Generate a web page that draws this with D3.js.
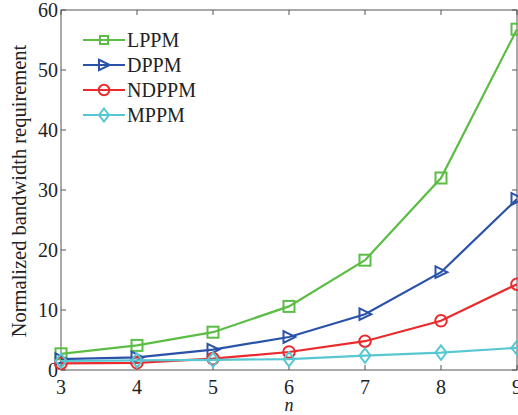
<!DOCTYPE html>
<html>
<head>
<meta charset="utf-8">
<script src="https://cdn.jsdelivr.net/npm/d3@7"></script>
<style>
  html, body { margin: 0; padding: 0; background: #fff; }
  svg { display: block; font-family: "Liberation Serif", "Times New Roman", serif; }
</style>
</head>
<body>
<div id="chart"></div>
<script>
const nValues = [3, 4, 5, 6, 7, 8, 9]
const lppm = [2.7, 4.1, 6.3, 10.6, 18.3, 32.0, 56.8]
const dppm = [1.8, 2.1, 3.4, 5.5, 9.3, 16.3, 28.5]
const ndppm = [1.1, 1.2, 1.9, 3.0, 4.8, 8.2, 14.3]
const mppm = [1.5, 1.6, 1.7, 1.8, 2.4, 2.9, 3.7]
const yTicks = [0, 10, 20, 30, 40, 50, 60]

const series = [
    { name: 'LPPM', values: lppm, color: '#5cbd45', marker: 'square' },
    { name: 'DPPM', values: dppm, color: '#2a52a8', marker: 'triangle' },
    { name: 'NDPPM', values: ndppm, color: '#ea2a2c', marker: 'circle' },
    { name: 'MPPM', values: mppm, color: '#57c8d2', marker: 'diamond' }
]

const viewBoxWidth = 518
const viewBoxHeight = 415
const marginLeft = 61
const marginTop = 10
const width = 517 - marginLeft
const height = 370 - marginTop
const axisColor = '#555'

const svg = d3.select('#chart')
    .append('svg')
    .attr('width', viewBoxWidth)
    .attr('height', viewBoxHeight)

const plot = svg.append('g')
    .attr('transform', `translate(${marginLeft}, ${marginTop})`)

const x = d3.scaleLinear().domain([3, 9]).range([0, width])
const y = d3.scaleLinear().domain([0, 60]).range([height, 0])

// marker shapes
function drawMarker(g, type, color, s) {
    if (type === 'square') {
        g.append('rect').attr('x', -s).attr('y', -s).attr('width', 2 * s).attr('height', 2 * s)
            .attr('fill', 'none').attr('stroke', color).attr('stroke-width', 2)
    } else if (type === 'triangle') {
        g.append('path').attr('d', `M${-s},${-s * 1.05}L${s * 1.15},0L${-s},${s * 1.05}Z`)
            .attr('fill', 'none').attr('stroke', color).attr('stroke-width', 2)
    } else if (type === 'circle') {
        g.append('circle').attr('r', s * 1.05)
            .attr('fill', 'none').attr('stroke', color).attr('stroke-width', 2)
    } else {
        g.append('path').attr('d', `M0,${-s * 1.3}L${s},0L0,${s * 1.3}L${-s},0Z`)
            .attr('fill', 'none').attr('stroke', color).attr('stroke-width', 2)
    }
}

// frame + ticks
plot.append('rect')
    .attr('width', width).attr('height', height)
    .attr('fill', 'none').attr('stroke', axisColor).attr('stroke-width', 1)

const tickLen = 5
nValues.forEach(v => {
    plot.append('line').attr('x1', x(v)).attr('x2', x(v)).attr('y1', height).attr('y2', height - tickLen)
        .attr('stroke', axisColor)
    plot.append('line').attr('x1', x(v)).attr('x2', x(v)).attr('y1', 0).attr('y2', tickLen)
        .attr('stroke', axisColor)
    plot.append('text')
        .attr('x', x(v)).attr('y', height + 24)
        .attr('text-anchor', 'middle')
        .attr('font-size', 20).attr('fill', '#222')
        .text(v)
})
yTicks.forEach(v => {
    plot.append('line').attr('x1', 0).attr('x2', tickLen).attr('y1', y(v)).attr('y2', y(v))
        .attr('stroke', axisColor)
    plot.append('line').attr('x1', width).attr('x2', width - tickLen).attr('y1', y(v)).attr('y2', y(v))
        .attr('stroke', axisColor)
    plot.append('text')
        .attr('x', -3).attr('y', y(v) + 7)
        .attr('text-anchor', 'end')
        .attr('font-size', 20).attr('fill', '#222')
        .text(v)
})

// axis titles
svg.append('text')
    .attr('x', marginLeft + x(6)).attr('y', 411)
    .attr('text-anchor', 'middle')
    .attr('font-size', 18).attr('font-style', 'italic').attr('fill', '#222')
    .text('n')
svg.append('text')
    .attr('transform', 'translate(26, 191) rotate(-90)')
    .attr('text-anchor', 'middle')
    .attr('font-size', 20.5).attr('fill', '#222')
    .text('Normalized bandwidth requirement')

// series
const line = d3.line().x((d, i) => x(nValues[i])).y(d => y(d))
series.forEach(s => {
    plot.append('path')
        .datum(s.values)
        .attr('d', line)
        .attr('fill', 'none')
        .attr('stroke', s.color)
        .attr('stroke-width', 2.2)
    s.values.forEach((v, i) => {
        const g = plot.append('g').attr('transform', `translate(${x(nValues[i])}, ${y(v)})`)
        drawMarker(g, s.marker, s.color, 5.5)
    })
})

// legend
const legend = svg.append('g').attr('transform', 'translate(83, 40)')
series.forEach((s, i) => {
    const row = legend.append('g').attr('transform', `translate(0, ${i * 25})`)
    row.append('line').attr('x1', 0).attr('x2', 42).attr('y1', 0).attr('y2', 0)
        .attr('stroke', s.color).attr('stroke-width', 2.2)
    const m = row.append('g').attr('transform', 'translate(21, 0)')
    drawMarker(m, s.marker, s.color, s.marker === 'square' ? 4 : 5)
    row.append('text')
        .attr('x', 44).attr('y', 7)
        .attr('font-size', 20).attr('fill', '#222')
        .text(s.name)
})
</script>
</body>
</html>
